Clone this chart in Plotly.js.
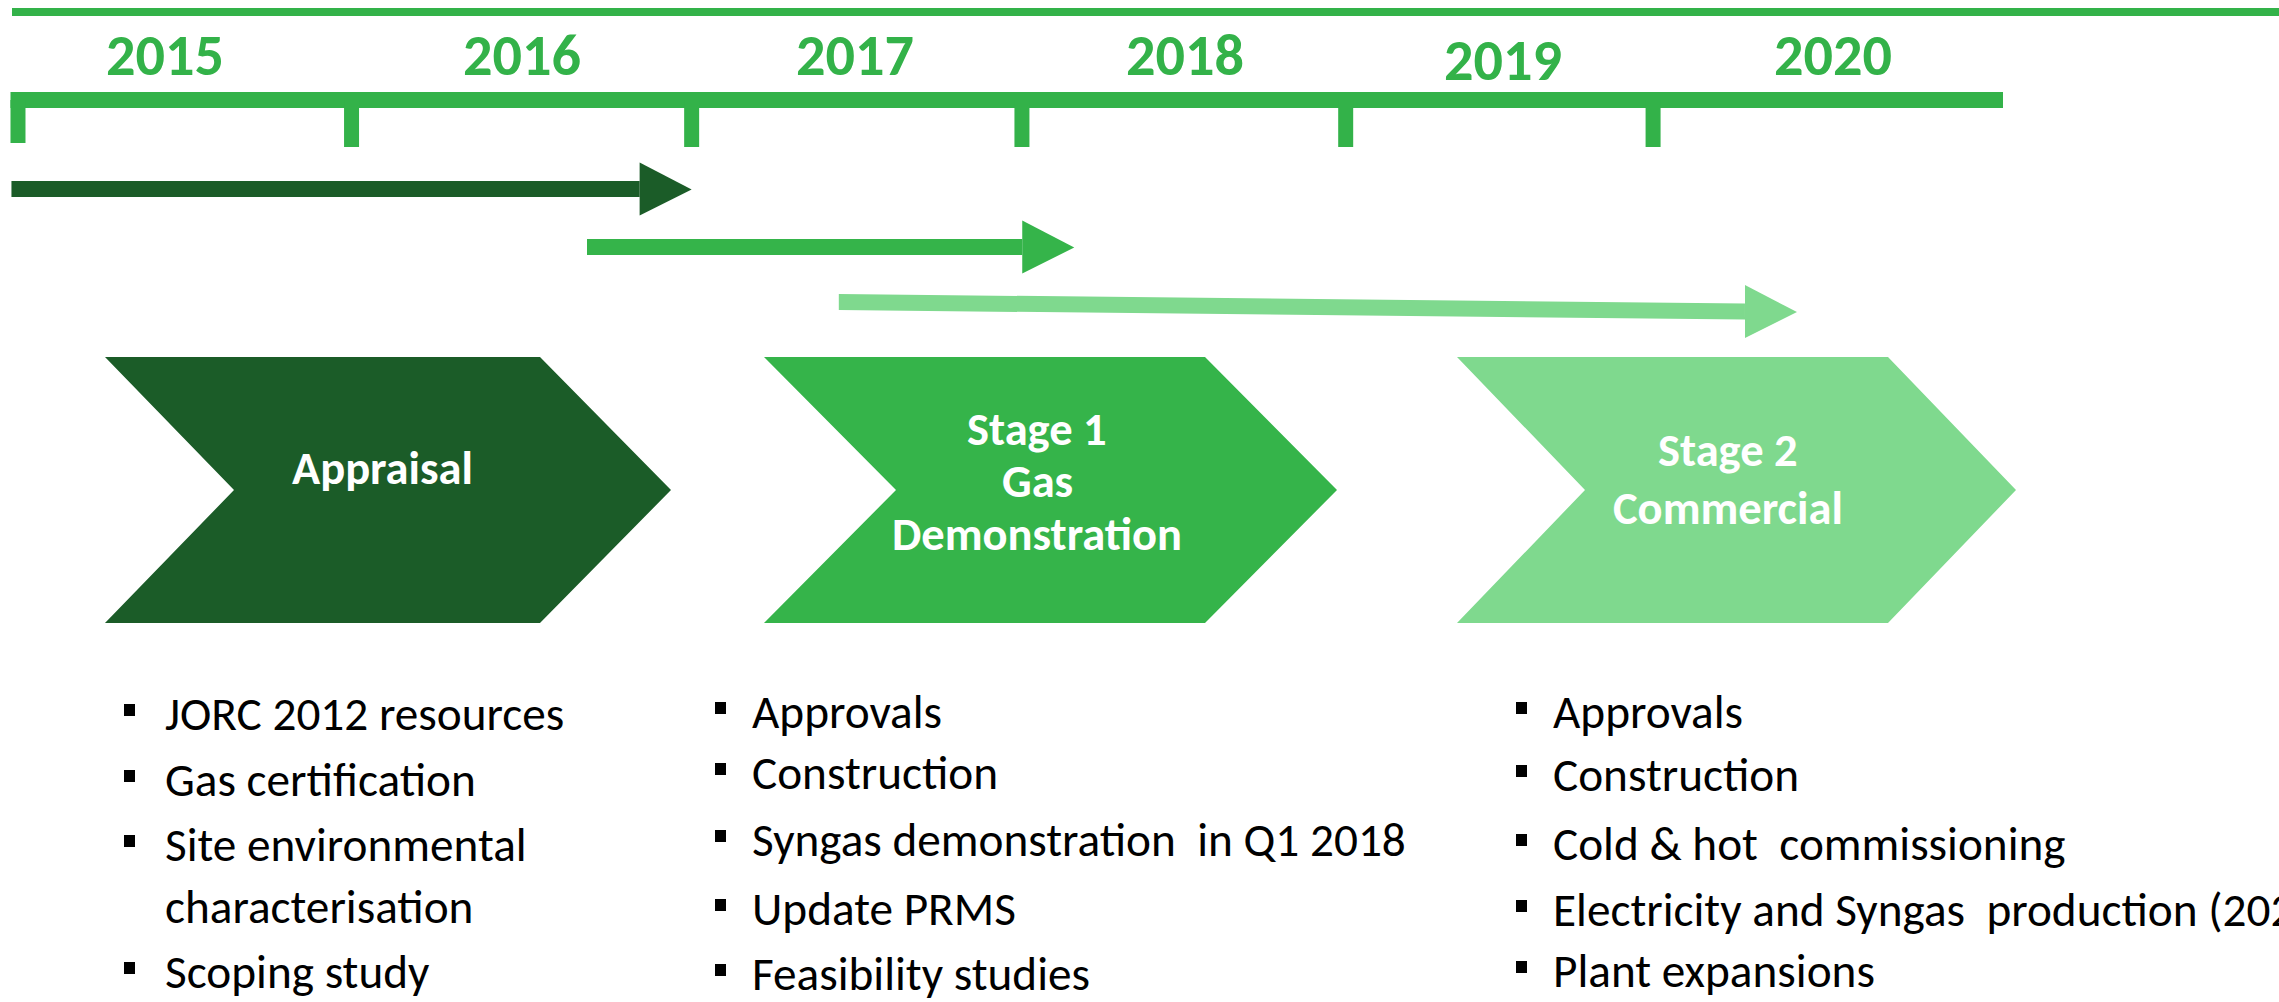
<!DOCTYPE html>
<html>
<head>
<meta charset="utf-8">
<script src="https://cdn.plot.ly/plotly-3.0.1.min.js"></script>
<style>
html,body{margin:0;padding:0;background:#ffffff;overflow:hidden}
#chart{width:2279px;height:1002px}
</style>
</head>
<body>
<div id="chart"></div>
<script>
// ---------------- DATA ----------------
const years       = [2015, 2016, 2017, 2018, 2019, 2020];
const yearStarts  = [2015.0, 2016.02, 2017.06, 2018.07, 2019.06, 2020.0];   // tick marks on the time bar
const yearLabelAt = [2015.45, 2016.54, 2017.56, 2018.57, 2019.54, 2020.55]; // where each year label sits
const timelineEnd = 2021.07;

const phases      = ['Appraisal', 'Stage 1 Gas Demonstration', 'Stage 2 Commercial'];
const phaseLines  = [['Appraisal'], ['Stage 1', 'Gas', 'Demonstration'], ['Stage 2', 'Commercial']];
const phaseStart  = [2014.98, 2016.74, 2017.51];
const phaseEnd    = [2017.06, 2018.23, 2020.44];

const appraisalTasks = ['JORC 2012 resources', 'Gas certification', 'Site environmental\ncharacterisation', 'Scoping study'];
const stage1Tasks    = ['Approvals', 'Construction', 'Syngas demonstration  in Q1 2018', 'Update PRMS', 'Feasibility studies'];
const stage2Tasks    = ['Approvals', 'Construction', 'Cold & hot  commissioning', 'Electricity and Syngas  production (2020)', 'Plant expansions'];

// ---------------- STYLE / LAYOUT CONSTANTS ----------------
const W = 2279, H = 1002;
const X0 = 2014.945, X1 = 2021.914;          // x-axis range in years
const PX_PER_YEAR = W / (X1 - X0);
const GREEN = '#33b249';
const phaseColors = ['#1b5c28', '#35b44a', '#7fd98e'];

const fx = p => p / W;            // pixel -> paper x
const fy = p => 1 - p / H;        // pixel -> paper y
const yrs = p => p / PX_PER_YEAR; // pixel length -> years

// font choice and sizes fitted to the reference text widths
const ctx = document.createElement('canvas').getContext('2d');
function pickFamily() {
  const t = 'JORC 2012 resources Demonstration';
  ctx.font = '40px monospace';
  const base = ctx.measureText(t).width;
  for (const f of ['Carlito', 'Lato', 'Open Sans']) {
    ctx.font = '40px "' + f + '", monospace';
    if (Math.abs(ctx.measureText(t).width - base) > 1) return f;
  }
  return 'sans-serif';
}
const FAMILY = pickFamily();
function fit(text, target, weight) {
  ctx.font = weight + ' 100px "' + FAMILY + '"';
  return 100 * target / ctx.measureText(text).width;
}
const SIZE_BULLET = fit('Syngas demonstration  in Q1 2018', 654, 400);
const SIZE_STAGE  = fit('Demonstration', 290, 700);
const SIZE_YEAR   = fit('2015', 118, 700);

const shapes = [];
const annotations = [];
const noLine = {width: 0, color: 'rgba(0,0,0,0)'};
const path = pts => 'M' + pts.map(p => p[0] + ',' + p[1]).join('L') + 'Z';

// top rule
shapes.push({type: 'rect', xref: 'paper', yref: 'paper', x0: fx(12), x1: 1, y0: fy(16), y1: fy(8),
             fillcolor: GREEN, line: noLine, layer: 'above'});

// time bar with year ticks
shapes.push({type: 'rect', xref: 'x', yref: 'paper', x0: yearStarts[0] - yrs(7.5), x1: timelineEnd,
             y0: fy(108), y1: fy(92), fillcolor: GREEN, line: noLine});
yearStarts.forEach((t, i) => {
  shapes.push({type: 'rect', xref: 'x', yref: 'paper', x0: t - yrs(7.5), x1: t + yrs(7.5),
               y0: fy(i === 0 ? 143 : 147), y1: fy(100), fillcolor: GREEN, line: noLine});
});
years.forEach((y, i) => {
  const drop = (y === 2019) ? 5 : 0;
  annotations.push({xref: 'x', yref: 'paper', x: yearLabelAt[i], y: fy(55.5 + drop),
    text: String(y), showarrow: false, xanchor: 'center', yanchor: 'middle',
    font: {family: FAMILY, size: SIZE_YEAR, weight: 700, color: GREEN}});
});

// phase arrows
const rowY = [[189, 189], [247, 247], [302, 311.5]];
const HALF_SHAFT = 8, HALF_HEAD = 26.5, HEAD_LEN = 52;
phases.forEach((p, i) => {
  const xs = phaseStart[i], xb = phaseEnd[i] - yrs(HEAD_LEN), xt = phaseEnd[i];
  const [ya, yb] = rowY[i];
  shapes.push({type: 'path', xref: 'x', yref: 'paper', fillcolor: phaseColors[i], line: noLine,
    path: path([[xs, fy(ya - HALF_SHAFT)], [xb, fy(yb - HALF_SHAFT)], [xb, fy(yb + HALF_SHAFT)], [xs, fy(ya + HALF_SHAFT)]])});
  shapes.push({type: 'path', xref: 'x', yref: 'paper', fillcolor: phaseColors[i], line: noLine,
    path: path([[xb, fy(yb - HALF_HEAD)], [xt, fy(yb + 0.5)], [xb, fy(yb + HALF_HEAD)]])});
});

// chevrons with stage names
const chevLeft = [105, 764, 1457], chevBody = [435, 441, 431], chevNotch = [129, 132, 128], chevTip = [131, 132, 128];
const CH_TOP = 357, CH_BOT = 623, CH_MID = 490;
const textCX = [382, 1037, 1728], textCY = [468, 481, 479], textGap = [0, 52.5, 58];
phases.forEach((p, i) => {
  const l = chevLeft[i], r = l + chevBody[i];
  shapes.push({type: 'path', xref: 'paper', yref: 'paper', fillcolor: phaseColors[i], line: noLine,
    path: path([[fx(l), fy(CH_TOP)], [fx(r), fy(CH_TOP)], [fx(r + chevTip[i]), fy(CH_MID)],
                [fx(r), fy(CH_BOT)], [fx(l), fy(CH_BOT)], [fx(l + chevNotch[i]), fy(CH_MID)]])});
  const lines = phaseLines[i];
  lines.forEach((s, k) => {
    const y = textCY[i] + (k - (lines.length - 1) / 2) * textGap[i];
    annotations.push({xref: 'paper', yref: 'paper', x: fx(textCX[i]), y: fy(y), text: s,
      showarrow: false, xanchor: 'center', yanchor: 'middle',
      font: {family: FAMILY, size: SIZE_STAGE, weight: 700, color: '#ffffff'}});
  });
});

// bullet lists
const columns = [
  {tasks: appraisalTasks, bx: 124, tx: 163, rows: [714, 780, 845, 907, 972]},
  {tasks: stage1Tasks,    bx: 715, tx: 750, rows: [712, 773, 840, 909, 974]},
  {tasks: stage2Tasks,    bx: 1516, tx: 1551, rows: [712, 775, 844, 910, 971]}
];
columns.forEach(col => {
  let r = 0;
  col.tasks.forEach(task => {
    task.split('\n').forEach((line, k) => {
      const y = col.rows[r++];
      if (k === 0) {
        shapes.push({type: 'rect', xref: 'paper', yref: 'paper', x0: fx(col.bx), x1: fx(col.bx + 11),
          y0: fy(y + 2), y1: fy(y - 10), fillcolor: '#000000', line: noLine});
      }
      annotations.push({xref: 'paper', yref: 'paper', x: fx(col.tx), y: fy(y),
        text: line.replace(/  /g, '\u00a0 '), showarrow: false, xanchor: 'left', yanchor: 'middle',
        font: {family: FAMILY, size: SIZE_BULLET, color: '#000000'}});
    });
  });
});

const data = [{type: 'scatter', x: [], y: [], hoverinfo: 'skip', showlegend: false}];
const layout = {
  width: W, height: H,
  margin: {l: 0, r: 0, t: 0, b: 0, pad: 0},
  paper_bgcolor: '#ffffff', plot_bgcolor: '#ffffff',
  showlegend: false,
  xaxis: {range: [X0, X1], visible: false, fixedrange: true},
  yaxis: {range: [0, 1], visible: false, fixedrange: true},
  shapes: shapes,
  annotations: annotations
};
Plotly.newPlot('chart', data, layout, {staticPlot: true, displayModeBar: false});
</script>
</body>
</html>
